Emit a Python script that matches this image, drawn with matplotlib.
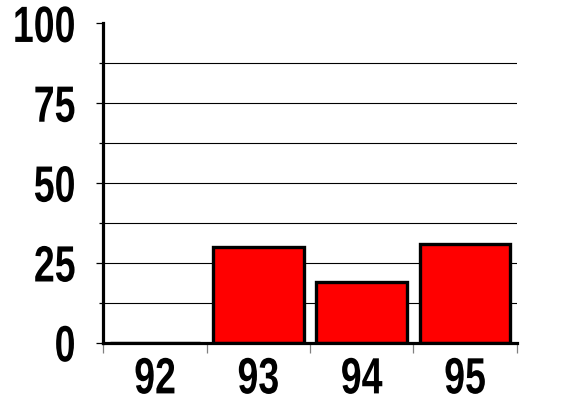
import matplotlib
matplotlib.use("Agg")
import matplotlib.pyplot as plt
from matplotlib.ticker import FixedLocator
from matplotlib.patheffects import AbstractPathEffect
from matplotlib.transforms import Affine2D

categories = ["92", "93", "94", "95"]
values = [0, 30, 19, 31]
y_ticks = [0, 25, 50, 75, 100]
grid_levels = [12.5, 25, 37.5, 50, 62.5, 75, 87.5]

plt.rcParams['font.family'] = ["Liberation Sans", "DejaVu Sans"]


class VStretch(AbstractPathEffect):
    """Draw text glyphs stretched vertically about their own centre (condensed look)."""
    def __init__(self, sy):
        super().__init__()
        self.sy = sy

    def draw_path(self, renderer, gc, tpath, affine, rgbFace=None):
        ext = tpath.get_extents(affine)
        cy = (ext.y0 + ext.y1) / 2
        aff = affine + Affine2D().translate(0, -cy).scale(1, self.sy).translate(0, cy)
        renderer.draw_path(gc, tpath, aff, rgbFace)


fig = plt.figure(figsize=(5.75, 4.19), dpi=100)
ax = fig.add_axes([103.3/575, 1 - 342.7/419, (516.7-103.3)/575, (342.7-23.3)/419])

x = list(range(len(categories)))
ax.hlines(grid_levels, -0.5, len(categories) - 0.5, colors="black", linewidth=0.8, zorder=1)
ax.bar(x, values, width=0.88, color="#ff0000", edgecolor="black", linewidth=2.4, zorder=3)

ax.set_xlim(-0.5, len(categories) - 0.5)
ax.set_ylim(0, 100)

for s in ["top", "right"]:
    ax.spines[s].set_visible(False)
for s in ["left", "bottom"]:
    ax.spines[s].set_linewidth(2.3)
    ax.spines[s].set_zorder(4)

ax.set_yticks(y_ticks)
ax.set_yticklabels([str(v) for v in y_ticks])
ax.yaxis.set_minor_locator(FixedLocator(grid_levels[::2]))
ax.tick_params(axis="y", which="major", length=5, width=0.9, color="black", pad=15,
               labelsize=27)
ax.tick_params(axis="y", which="minor", length=3, width=0.9, color="black")

ax.set_xticks(x)
ax.set_xticklabels(categories)
ax.xaxis.set_minor_locator(FixedLocator([i - 0.5 for i in range(len(categories) + 1)]))
ax.tick_params(axis="x", which="major", length=0, pad=13, labelsize=27)
ax.tick_params(axis="x", which="minor", length=7, width=0.9, color="#808080")

for lab in ax.get_xticklabels() + ax.get_yticklabels():
    lab.set_fontweight("bold")
    lab.set_path_effects([VStretch(1.36)])

fig.savefig("out.png", dpi=100)
